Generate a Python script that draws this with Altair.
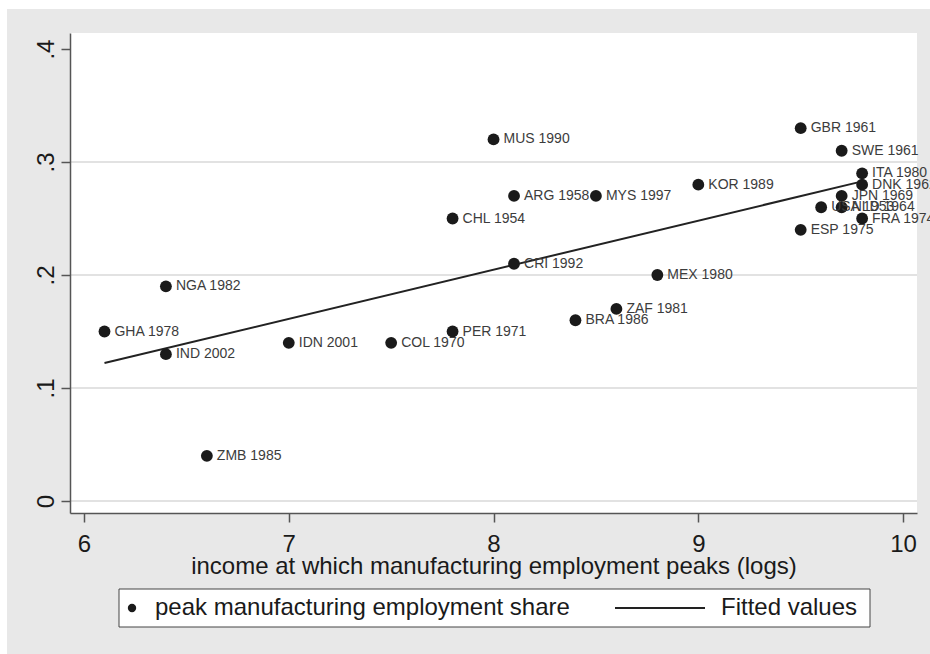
import altair as alt
import pandas as pd

# Country, year of peak manufacturing employment, income at the peak (logs), peak share
codes = ["GHA", "NGA", "IND", "ZMB", "IDN", "COL", "PER", "CHL", "MUS", "ARG",
         "CRI", "BRA", "MYS", "ZAF", "MEX", "KOR", "GBR", "ESP", "USA", "SWE",
         "JPN", "NLD", "ITA", "DNK", "FRA"]
years = [1978, 1982, 2002, 1985, 2001, 1970, 1971, 1954, 1990, 1958,
         1992, 1986, 1997, 1981, 1980, 1989, 1961, 1975, 1953, 1961,
         1969, 1964, 1980, 1962, 1974]
income = [6.1, 6.4, 6.4, 6.6, 7.0, 7.5, 7.8, 7.8, 8.0, 8.1,
          8.1, 8.4, 8.5, 8.6, 8.8, 9.0, 9.5, 9.5, 9.6, 9.7,
          9.7, 9.7, 9.8, 9.8, 9.8]
share = [0.15, 0.19, 0.13, 0.04, 0.14, 0.14, 0.15, 0.25, 0.32, 0.27,
         0.21, 0.16, 0.27, 0.17, 0.20, 0.28, 0.33, 0.24, 0.26, 0.31,
         0.27, 0.26, 0.29, 0.28, 0.25]

x_ticks = [6, 7, 8, 9, 10]
y_ticks = [0, 0.1, 0.2, 0.3, 0.4]
grid_lines = [0, 0.1, 0.2, 0.3]
legend_labels = ["peak manufacturing employment share", "Fitted values"]
x_title = "income at which manufacturing employment peaks (logs)"

df = pd.DataFrame({"code": codes, "year": years, "income": income, "share": share})
df["label"] = df["code"] + " " + df["year"].astype(str)

W, H = 847, 480
FONT = "Liberation Sans"
INK = "#1a1a1a"
AXIS = "#555555"
BG = "#e8e8e8"

xscale = alt.Scale(domain=[5.9316, 10.068], nice=False, zero=False)
yscale = alt.Scale(domain=[-0.0106, 0.4142], nice=False, zero=False)

x_axis = alt.Axis(
    values=x_ticks, format="d", grid=False, zindex=1,
    tickSize=9, tickWidth=1.5, tickColor=AXIS,
    domainColor=AXIS, domainWidth=1.5,
    labelFontSize=24, labelColor=INK, labelPadding=10,
    title=x_title, titleFontSize=24, titleFontWeight="normal",
    titleColor=INK, titlePadding=-2,
)
y_axis = alt.Axis(
    values=y_ticks, grid=False, zindex=1, title=None,
    labelExpr="datum.value == 0 ? '0' : replace(format(datum.value, '.1f'), '0.', '.')",
    labelAngle=270, labelAlign="center", labelBaseline="alphabetic",
    tickSize=9, tickWidth=1.5, tickColor=AXIS,
    domainColor=AXIS, domainWidth=1.5,
    labelFontSize=24, labelColor=INK, labelPadding=8,
)

one = pd.DataFrame({"k": [0]})

# graph region (grey) and plot region (white)
backdrop = alt.Chart(one).mark_rect(color=BG).encode(
    x=alt.value(-63), x2=alt.value(W + 13), y=alt.value(-24), y2=alt.value(H + 141)
)
plot_bg = alt.Chart(one).mark_rect(color="white").encode(
    x=alt.value(0), x2=alt.value(W), y=alt.value(0), y2=alt.value(H)
)

grid = alt.Chart(pd.DataFrame({"share": grid_lines})).mark_rule(
    color="#e2e2e2", strokeWidth=2
).encode(y=alt.Y("share:Q", scale=yscale, axis=y_axis))

fit = alt.Chart(df).transform_regression("income", "share").mark_line(
    color="#222222", strokeWidth=2
).encode(
    x=alt.X("income:Q", scale=xscale, axis=x_axis),
    y=alt.Y("share:Q", scale=yscale, axis=y_axis),
)

points = alt.Chart(df).mark_circle(size=140, color=INK, opacity=1).encode(
    x=alt.X("income:Q", scale=xscale, axis=x_axis),
    y=alt.Y("share:Q", scale=yscale, axis=y_axis),
)

labels = alt.Chart(df).mark_text(
    align="left", baseline="middle", dx=10, fontSize=14, color="#3c3c3c"
).encode(
    x=alt.X("income:Q", scale=xscale, axis=x_axis),
    y=alt.Y("share:Q", scale=yscale, axis=y_axis),
    text="label:N",
)

# legend box below the plot
LY = 575
legend_box = alt.Chart(one).mark_rect(
    fill="white", stroke="#444444", strokeWidth=1
).encode(x=alt.value(49), x2=alt.value(800), y=alt.value(556), y2=alt.value(594))
legend_dot = alt.Chart(one).mark_circle(size=70, color=INK, opacity=1).encode(
    x=alt.value(62), y=alt.value(LY)
)
legend_line = alt.Chart(one).mark_rule(color="#222222", strokeWidth=2).encode(
    x=alt.value(545), x2=alt.value(635), y=alt.value(LY)
)
legend_text1 = alt.Chart(one).mark_text(
    text=legend_labels[0], align="left", baseline="middle", fontSize=24, color=INK
).encode(x=alt.value(85), y=alt.value(LY))
legend_text2 = alt.Chart(one).mark_text(
    text=legend_labels[1], align="left", baseline="middle", fontSize=24, color=INK
).encode(x=alt.value(651), y=alt.value(LY))

chart = alt.layer(
    backdrop, plot_bg, grid, fit, points, labels,
    legend_box, legend_dot, legend_line, legend_text1, legend_text2,
).properties(
    width=W,
    height=H,
    padding={"left": 70, "top": 33, "right": 13, "bottom": 141},
    autosize=alt.AutoSizeParams(type="none"),
    background="white",
).configure(
    font=FONT
).configure_view(
    strokeWidth=0
)

chart.save("out.html", embed_options={"renderer": "svg", "actions": False})
